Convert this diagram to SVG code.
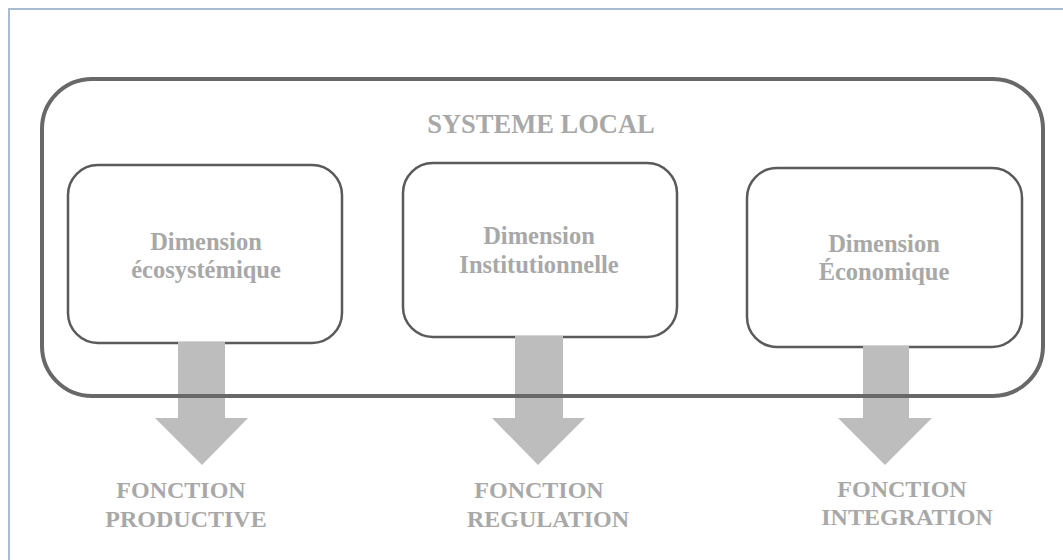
<svg xmlns="http://www.w3.org/2000/svg" width="1063" height="560" viewBox="0 0 1063 560">
<style>
.frame{fill:none;stroke:#a9bcd2;stroke-width:2}
.outer{fill:none;stroke:#686868;stroke-width:4}
.box{fill:#fff;stroke:#5a5a5a;stroke-width:2.5}
.arrow{fill:#bdbdbd}
.t{font-family:"Liberation Serif","Times New Roman",serif;font-weight:bold;fill:#a8a8a8;text-anchor:middle}
.title{font-size:26.5px}
.dim{font-size:24.5px}
.fn{font-size:24px}
</style>
<rect x="0" y="0" width="1063" height="560" fill="#ffffff"/>
<rect class="frame" x="9" y="9" width="1070" height="570"/>
<g id="box-eco">
<rect class="box" x="68" y="165" width="274" height="178" rx="30"/>
<text class="t dim" x="206" y="250">Dimension</text>
<text class="t dim" x="206" y="278">écosystémique</text>
</g>
<g id="box-inst">
<rect class="box" x="403" y="163" width="274" height="174" rx="30"/>
<text class="t dim" x="539" y="244">Dimension</text>
<text class="t dim" x="539" y="273">Institutionnelle</text>
</g>
<g id="box-eco2">
<rect class="box" x="747" y="168" width="275" height="179" rx="30"/>
<text class="t dim" x="884" y="252">Dimension</text>
<text class="t dim" x="884" y="280">Économique</text>
</g>
<g id="connectors">
<polygon class="arrow" points="178,342 225,342 225,418 248,418 202,465 155,418 178,418"/>
<polygon class="arrow" points="515,336 563,336 563,418 585,418 538,465 492,418 515,418"/>
<polygon class="arrow" points="863,346 909,346 909,418 932,418 885,465 838,418 863,418"/>
</g>
<g id="systeme-local">
<rect class="outer" x="42" y="79" width="1001" height="317" rx="50"/>
<text class="t title" x="541" y="133">SYSTEME LOCAL</text>
</g>
<g id="label-productive">
<text class="t fn" x="181" y="498">FONCTION</text>
<text class="t fn" x="186" y="527">PRODUCTIVE</text>
</g>
<g id="label-regulation">
<text class="t fn" x="539" y="498">FONCTION</text>
<text class="t fn" x="548" y="527">REGULATION</text>
</g>
<g id="label-integration">
<text class="t fn" x="902" y="497">FONCTION</text>
<text class="t fn" x="907" y="525">INTEGRATION</text>
</g>
</svg>
